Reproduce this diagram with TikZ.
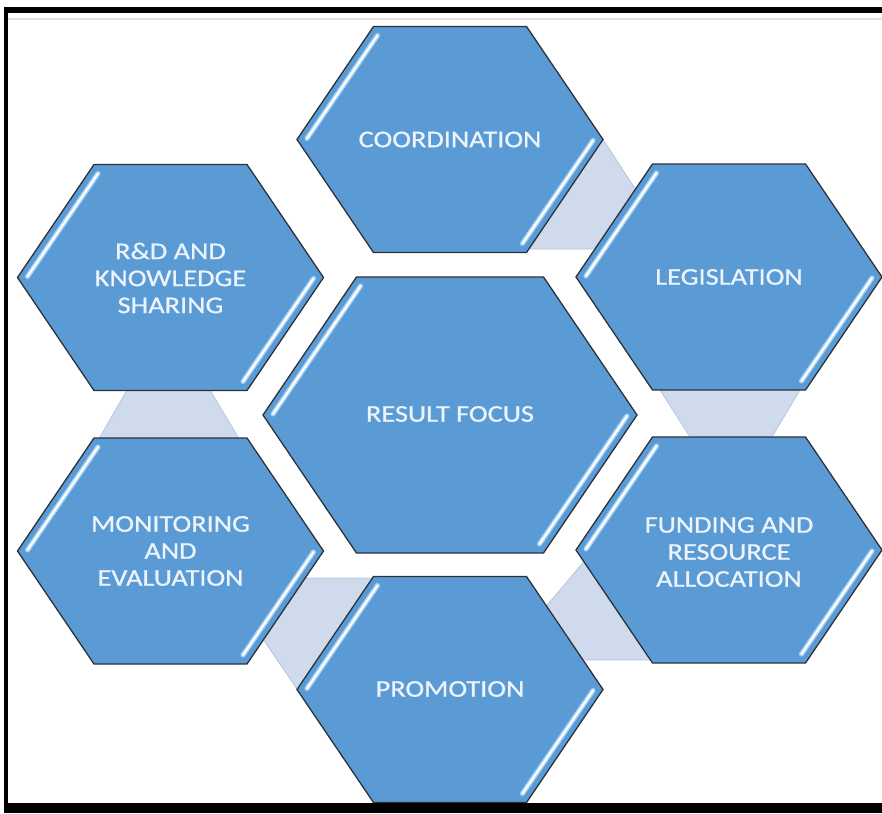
\documentclass[tikz,border=0pt]{standalone}
\usepackage{fontspec}
\newfontfamily\hexfont[FakeStretch=1.18,FakeBold=0.8]{Carlito}
\definecolor{hexfill}{RGB}{91,155,213}
\definecolor{hexline}{RGB}{45,50,58}
\definecolor{linkfill}{RGB}{207,219,236}
\definecolor{linkline}{RGB}{182,199,222}
\definecolor{glowout}{RGB}{172,212,244}
\definecolor{hextext}{RGB}{236,243,251}
\definecolor{rulegray}{RGB}{226,226,226}
\tikzset{
  hexbody/.style={fill=hexfill, draw=hexline, line width=1.3pt, line join=miter},
  glowedge/.style={draw=glowout, line width=5pt, line cap=round},
  glowcore/.style={draw=white, line width=2pt, line cap=round},
  linkshape/.style={fill=linkfill, draw=linkline, line width=0.8pt},
  hexlabel/.style={text=hextext, align=center, inner sep=0pt,
    font=\hexfont\fontsize{24}{27}\selectfont},
  framebar/.style={fill=black}
}
% #1 cx, #2 cy, #3 half width, #4 half height
\newcommand\hexcell[4]{%
  \begin{scope}[shift={(#1,#2)}]
    \path[hexbody] (-#3,0) -- ({-#3/2},-#4) -- ({#3/2},-#4) -- (#3,0)
      -- ({#3/2},#4) -- ({-#3/2},#4) -- cycle;
    \draw[glowedge] ({-#3+10},-1) -- ({-#3/2+4},{-#4+9});
    \draw[glowcore] ({-#3+10},-1) -- ({-#3/2+4},{-#4+9});
    \draw[glowedge] ({#3-10},1) -- ({#3/2-4},{#4-9});
    \draw[glowcore] ({#3-10},1) -- ({#3/2-4},{#4-9});
  \end{scope}}
\begin{document}
\begin{tikzpicture}[x=1pt,y=-1pt]
\useasboundingbox (0,0) rectangle (882,813);
\fill[white] (0,0) rectangle (882,813);
% connectors between neighbouring hexagons
\path[linkshape] (603,139.5) -- (636,190) -- (600,249) -- (520,249) -- (560,160) -- cycle;
\path[linkshape] (656.2,384) -- (803.6,384) -- (768.4,443) -- (693.8,443) -- cycle;
\path[linkshape] (592,552) -- (543,610) -- (575,660) -- (660,660) -- (620,580) -- cycle;
\path[linkshape] (297,689) -- (256.7,630) -- (295,578) -- (380,578) -- (360,640) -- cycle;
\path[linkshape] (130.4,384) -- (206.4,384) -- (241.6,443) -- (96.6,443) -- cycle;
% hexagons
\hexcell{450}{139.5}{153}{113}
\hexcell{729}{277}{153}{113}
\hexcell{729}{550}{153}{113}
\hexcell{450}{689.5}{153}{113}
\hexcell{170.5}{551}{153}{113}
\hexcell{170.5}{277.5}{153}{113}
\hexcell{450}{415}{187}{138}
% labels
\node[hexlabel] (coord) at (450,139.5) {COORDINATION};
\node[hexlabel] (legis) at (729,277) {LEGISLATION};
\node[hexlabel] (fund) at (729,552) {FUNDING AND\\RESOURCE\\ALLOCATION};
\node[hexlabel] (promo) at (450,689) {PROMOTION};
\node[hexlabel] (monit) at (170.5,551) {MONITORING\\AND\\EVALUATION};
\node[hexlabel] (rnd) at (170.5,278) {R\&D AND\\KNOWLEDGE\\SHARING};
\node[hexlabel] (result) at (450,414) {RESULT FOCUS};
% frame
\fill[rulegray] (8,18.5) rectangle (882,20.5);
\path[framebar] (4,7) rectangle (882,13);
\path[framebar] (4,7) rectangle (8,813);
\path[framebar] (4,803) rectangle (882,813);
\end{tikzpicture}
\end{document}
